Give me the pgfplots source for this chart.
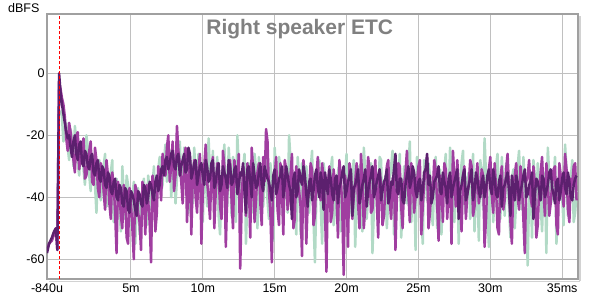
\documentclass[border=0pt]{standalone}
\usepackage{pgfplots}
\pgfplotsset{compat=1.18}
\usepackage{pgfplotstable}
\usepackage{fontspec}
\setmainfont{Liberation Sans}
\definecolor{cgreen}{RGB}{178,218,198}
\definecolor{cmag}{RGB}{160,62,160}
\definecolor{cdark}{RGB}{92,32,110}
\definecolor{cgrid}{RGB}{192,192,192}
\definecolor{cframe}{RGB}{160,160,160}

\pgfplotstableread{
x g m d
-0.84 nan -57 -58
-0.70 nan -55 -55
-0.50 nan -54 -53
-0.35 nan -52 -51
-0.22 nan -50 -50
-0.12 nan -57 -57
0.00 nan -3 0
0.1 -12 -5 -6
0.2 -14 -8 -10
0.3 -22 -10 -13
0.4 -20 -14 -16
0.5 -16 -21 -19
0.6 -24 -25 -21
0.7 -28 -16 -20
0.8 -18 -19 -24
0.9 -21 -24 -27
1.0 -30 -28 -22
1.1 -17 -32 -20
1.2 -22 -20 -26
1.3 -29 -19 -28
1.4 -33 -31 -23
1.5 -24 -27 -22
1.6 -27 -24 -29
1.7 -31 -21 -30
1.8 -36 -34 -25
1.9 -20 -33 -26
2.0 -24 -29 -30
2.1 -33 -25 -31
2.2 -38 -22 -27
2.3 -27 -35 -26
2.4 -30 -36 -32
2.5 -36 -24 -33
2.6 -45 -28 -29
2.7 -32 -37 -28
2.8 -28 -40 -34
2.9 -41 -29 -35
3.0 -37 -31 -30
3.1 -30 -38 -31
3.2 -26 -44 -36
3.3 -43 -28 -37
3.4 -40 -33 -32
3.5 -35 -42 -33
3.6 -32 -47 -38
3.7 -28 -32 -39
3.8 -48 -36 -35
3.9 -42 -45 -34
4.0 -34 -58 -40
4.1 -38 -35 -41
4.2 -44 -39 -36
4.3 -51 -46 -37
4.4 -30 -50 -42
4.5 -39 -36 -43
4.6 -47 -40 -37
4.7 -33 -53 -38
4.8 -36 -55 -44
4.9 -45 -37 -45
5.0 -50 -42 -38
5.1 -40 -50 -39
5.2 -35 -60 -41
5.3 -55 -36 -44
5.4 -42 -38 -46
5.5 -37 -45 -38
5.6 -52 -48 -39
5.7 -44 -57 -42
5.8 -38 -35 -43
5.9 -34 -40 -36
6.0 -46 -52 -37
6.1 -49 -36 -42
6.2 -33 -41 -40
6.3 -39 -48 -35
6.4 -44 -61 -36
6.5 -36 -33 -39
6.6 -30 -37 -41
6.7 -42 -51 -35
6.8 -39 -45 -33
6.9 -31 -30 -38
7.0 -27 -34 -36
7.1 -38 -41 -31
7.2 -36 -26 -30
7.3 -28 -29 -33
7.4 -23 -33 -28
7.5 -35 -24 -27
7.6 -31 -20 -31
7.7 -25 -35 -29
7.8 -40 -30 -26
7.9 -33 -22 -25
8.0 -26 -38 -30
8.1 -42 -33 -31
8.2 -34 -17 -27
8.3 -29 -25 -26
8.4 -22 -29 -33
8.5 -35 -35 -30
8.6 -38 -42 -28
8.7 -24 -30 -26
8.8 -28 -24 -32
8.9 -37 -48 -31
9.0 -45 -36 -24
9.1 -27 -27 -26
9.2 -31 -52 -34
9.3 -42 -34 -32
9.4 -24 -28 -29
9.5 -33 -40 -28
9.6 -40 -45 -36
9.7 -26 -31 -33
9.8 -29 -26 -30
9.9 -39 -55 -29
10.0 -48 -38 -33
10.1 -29 -30 -36
10.2 -33 -23 -28
10.3 -43 -35 -30
10.4 -21 -40 -35
10.5 -32 -47 -34
10.6 -37 -31 -29
10.7 -25 -27 -28
10.8 -44 -50 -37
10.9 -36 -38 -35
11.0 -27 -29 -31
11.1 -46 -33 -29
11.2 -52 -43 -38
11.3 -34 -47 -36
11.4 -30 -25 -30
11.5 -23 -30 -32
11.6 -39 -56 -34
11.7 -43 -39 -37
11.8 -24 -33 -28
11.9 -32 -28 -30
12.0 -46 -41 -36
12.1 -27 -50 -35
12.2 -35 -28 -31
12.3 -48 -34 -30
12.4 -20 -37 -39
12.5 -30 -26 -36
12.6 -41 -63 -32
12.7 -38 -43 -33
12.8 -31 -30 -29
12.9 -26 -34 -38
13.0 -55 -46 -45
13.1 -40 -29 -31
13.2 -29 -35 -30
13.3 -33 -53 -35
13.4 -37 -24 -40
13.5 -45 -31 -29
13.6 -26 -48 -33
13.7 -31 -41 -37
13.8 -50 -32 -36
13.9 -27 -29 -32
14.0 -33 -42 -29
14.1 -38 -49 -36
14.2 -43 -27 -38
14.3 -32 -35 -30
14.4 -28 -18 -32
14.5 -41 -22 -34
14.6 -47 -38 -35
14.7 -29 -45 -38
14.8 -35 -61 -41
14.9 -54 -36 -33
15.0 -24 -33 -31
15.1 -33 -27 -39
15.2 -41 -44 -37
15.3 -27 -49 -34
15.4 -31 -29 -33
15.5 -39 -37 -30
15.6 -49 -52 -40
15.7 -30 -28 -36
15.8 -36 -31 -30
15.9 -45 -44 -33
16.0 -20 -40 -36
16.1 -28 -33 -38
16.2 -43 -26 -47
16.3 -37 -50 -34
16.4 -33 -47 -32
16.5 -52 -30 -40
16.6 -27 -35 -38
16.7 -34 -38 -31
16.8 -52 -43 -34
16.9 -29 -59 -36
17.0 -38 -28 -30
17.1 -43 -34 -33
17.2 -30 -55 -39
17.3 -36 -41 -43
17.4 -45 -37 -35
17.5 -31 -29 -34
17.6 -25 -31 -41
17.7 -47 -49 -38
17.8 -61 -46 -33
17.9 -39 -33 -31
18.0 -34 -27 -37
18.1 -28 -38 -40
18.2 -42 -41 -32
18.3 -55 -29 -35
18.4 -29 -34 -44
18.5 -33 -44 -32
18.6 -48 -64 -36
18.7 -40 -36 -39
18.8 -35 -30 -31
18.9 -31 -48 -34
19.0 -27 -45 -39
19.1 -49 -31 -41
19.2 -44 -36 -34
19.3 -36 -39 -33
19.4 -32 -53 -42
19.5 -29 -28 -37
19.6 -51 -33 -35
19.7 -42 -44 -32
19.8 -37 -65 -30
19.9 -33 -33 -40
20.0 -26 -38 -38
20.1 -48 -56 -35
20.2 -45 -29 -33
20.3 -38 -32 -31
20.4 -33 -47 -46
20.5 -28 -40 -37
20.6 -56 -35 -36
20.7 -42 -29 -34
20.8 -30 -42 -31
20.9 -35 -50 -42
21.0 -41 -26 -39
21.1 -51 -34 -36
21.2 -24 -50 -34
21.3 -32 -43 -31
21.4 -47 -37 -43
21.5 -40 -27 -38
21.6 -35 -31 -35
21.7 -29 -45 -33
21.8 -58 -44 -30
21.9 -44 -35 -40
22.0 -31 -28 -38
22.1 -36 -41 -35
22.2 -43 -53 -33
22.3 -27 -31 -31
22.4 -28 -36 -41
22.5 -46 -49 -38
22.6 -38 -46 -35
22.7 -33 -37 -34
22.8 -50 -30 -31
22.9 -41 -28 -42
23.0 -33 -41 -40
23.1 -30 -47 -35
23.2 -25 -34 -36
23.3 -52 -33 -31
23.4 -46 -57 -26
23.5 -35 -40 -38
23.6 -36 -29 -39
23.7 -26 -30 -34
23.8 -53 -43 -34
23.9 -43 -50 -41
24.0 -30 -36 -42
24.1 -37 -32 -36
24.2 -42 -25 -33
24.3 -31 -39 -30
24.4 -22 -48 -37
24.5 -48 -29 -35
24.6 -39 -33 -30
24.7 -34 -45 -32
24.8 -57 -40 -38
24.9 -27 -35 -40
25.0 -34 -30 -35
25.1 -40 -28 -34
25.2 -45 -52 -41
25.3 -55 -43 -38
25.4 -28 -35 -32
25.5 -33 -32 -31
25.6 -41 -27 -26
25.7 -29 -50 -36
25.8 -33 -45 -33
25.9 -44 -36 -42
26.0 -49 -38 -40
26.1 -35 -28 -35
26.2 -27 -31 -34
26.3 -50 -42 -33
26.4 -37 -54 -30
26.5 -31 -33 -38
26.6 -52 -36 -39
26.7 -39 -48 -32
26.8 -31 -29 -35
26.9 -26 -31 -37
27.0 -44 -47 -42
27.1 -41 -38 -34
27.2 -24 -33 -32
27.3 -33 -55 -40
27.4 -40 -25 -37
27.5 -48 -34 -35
27.6 -35 -43 -33
27.7 -30 -28 -31
27.8 -55 -36 -47
27.9 -37 -41 -38
28.0 -29 -51 -36
28.1 -25 -33 -33
28.2 -42 -30 -31
28.3 -45 -47 -41
28.4 -34 -39 -39
28.5 -32 -36 -36
28.6 -47 -28 -34
28.7 -40 -30 -31
28.8 -26 -46 -41
28.9 -51 -43 -38
29.0 -38 -35 -32
29.1 -35 -29 -34
29.2 -54 -42 -38
29.3 -28 -38 -40
29.4 -32 -31 -35
29.5 -44 -33 -33
29.6 -21 -56 -40
29.7 -33 -47 -37
29.8 -43 -34 -33
29.9 -56 -31 -31
30.0 -35 -27 -37
30.1 -31 -39 -39
30.2 -48 -45 -31
30.3 -40 -29 -34
30.4 -30 -37 -39
30.5 -26 -50 -40
30.6 -39 -52 -35
30.7 -47 -34 -33
30.8 -27 -30 -43
30.9 -36 -44 -37
31.0 -46 -41 -36
31.1 -29 -31 -34
31.2 -34 -26 -32
31.3 -43 -37 -38
31.4 -53 -48 -46
31.5 -34 -55 -33
31.6 -31 -35 -37
31.7 -50 -33 -41
31.8 -41 -29 -33
31.9 -30 -40 -35
32.0 -25 -44 -41
32.1 -39 -30 -38
32.2 -44 -36 -36
32.3 -27 -47 -33
32.4 -36 -58 -31
32.5 -45 -35 -40
32.6 -62 -33 -39
32.7 -38 -28 -36
32.8 -33 -40 -35
32.9 -53 -43 -32
33.0 -28 -30 -47
33.1 -34 -36 -39
33.2 -45 -53 -34
33.3 -29 -49 -35
33.4 -37 -37 -38
33.5 -42 -32 -41
33.6 -51 -27 -33
33.7 -36 -38 -34
33.8 -32 -46 -40
33.9 -58 -29 -38
34.0 -24 -35 -36
34.1 -33 -46 -32
34.2 -42 -42 -31
34.3 -40 -36 -37
34.4 -35 -31 -39
34.5 -27 -30 -42
34.6 -55 -49 -35
34.7 -44 -52 -34
34.8 -30 -29 -41
34.9 -35 -33 -38
35.0 -40 -38 -34
35.1 -49 -43 -32
35.2 -23 -26 -37
35.3 -31 -31 -39
35.4 -46 -44 -32
35.5 -38 -48 -35
35.6 -34 -34 -40
35.7 -28 -36 -41
35.8 -48 -30 -36
35.9 -45 -29 -34
36.0 -38 -41 -33
}\etc

\begin{document}
\begin{tikzpicture}
\begin{axis}[
  name=ax,
  scale only axis,
  width=531pt, height=265pt,
  xmin=-0.84, xmax=36.1,
  ymin=-66.45, ymax=19,
  xtick={-0.84,5,10,15,20,25,30,35},
  xticklabels={-840u,5m,10m,15m,20m,25m,30m,35ms},
  ytick={-60,-40,-20,0},
  yticklabels={-60,-40,-20,0},
  grid=major,
  major grid style={cgrid, line width=0.9pt},
  axis line style={cframe, line width=1.8pt},
  tick style={draw=none},
  ticklabel style={font=\fontsize{12.5}{14}\selectfont, text=black},
  xticklabel style={yshift=-1pt},
  yticklabel style={xshift=1pt},
  clip=true,
  unbounded coords=discard,
]
\addplot[cgreen, line width=2.5pt, line join=round] table[x=x, y=g] {\etc};
\addplot[cmag, line width=2.5pt, line join=round] table[x=x, y=m] {\etc};
\addplot[cdark, line width=2.5pt, line join=round] table[x=x, y=d] {\etc};
\addplot[red, densely dashed, line width=0.7pt] coordinates {(0,-66.45) (0,19)};
\node[font=\fontsize{21}{24}\selectfont\bfseries, text={rgb,255:red,128;green,128;blue,128}] at (rel axis cs:0.476,0.943) {Right speaker ETC};
\end{axis}
\node[font=\fontsize{12.5}{14}\selectfont, anchor=base east] at ([xshift=-4pt,yshift=1.5pt]ax.north west) {dBFS};
\draw[gray!35, line width=1.5pt] (533pt,-1.5pt) -- (533pt,263pt);
\draw[gray!35, line width=1.5pt] (2pt,-2pt) -- (533pt,-2pt);
\pgfresetboundingbox
\path (-47pt,-21.7pt) rectangle (553pt,279.3pt);
\end{tikzpicture}
\end{document}
